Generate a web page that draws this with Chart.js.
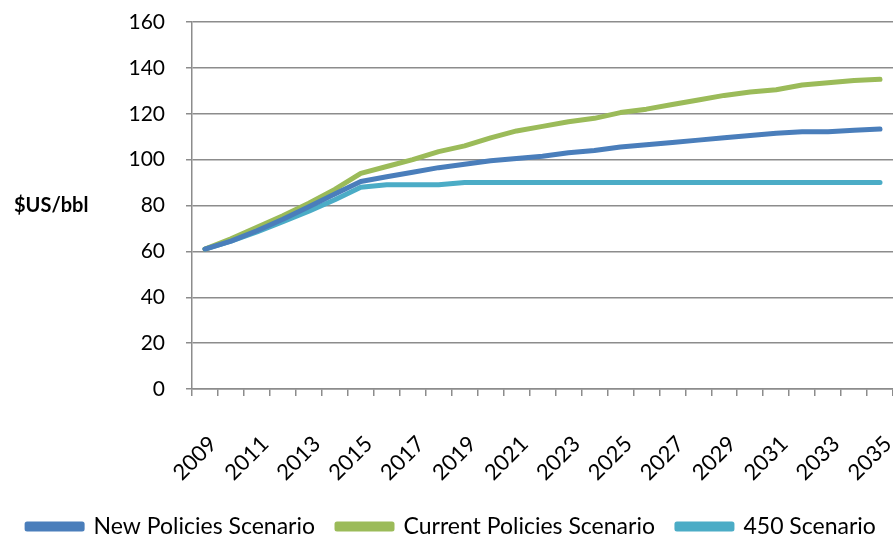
<!DOCTYPE html>
<html>
<head>
<meta charset="utf-8">
<script src="https://cdn.jsdelivr.net/npm/chart.js@4"></script>
<style>
    html, body { margin: 0; padding: 0; background: #fff; }
    #wrap { width: 893px; height: 540px; position: relative; }
</style>
</head>
<body>
<div id="wrap"><canvas id="chart" width="893" height="540"></canvas></div>
<script>
const years = [];
for (let y = 2009; y <= 2035; y++) years.push(String(y));

const newPolicies = [61, 64.5, 69, 74, 79.5, 85, 90.5, 92.5, 94.5, 96.5, 98, 99.5, 100.5, 101.5, 103, 104, 105.5, 106.5, 107.5, 108.5, 109.5, 110.5, 111.5, 112.2, 112.2, 112.8, 113.3];
const currentPolicies = [61, 65.5, 70.5, 75.5, 81, 87, 94, 97, 100, 103.5, 106, 109.5, 112.5, 114.5, 116.5, 118, 120.5, 122, 124, 126, 128, 129.5, 130.5, 132.5, 133.5, 134.5, 135];
const scenario450 = [61, 64.5, 68.5, 73, 77.5, 82.5, 88, 89, 89, 89, 90, 90, 90, 90, 90, 90, 90, 90, 90, 90, 90, 90, 90, 90, 90, 90, 90];

const seriesNames = ["New Policies Scenario", "Current Policies Scenario", "450 Scenario"];
const seriesColors = ["#4a7ebb", "#9bbb59", "#4bacc6"];
const yTitle = "$US/bbl";

const FONT = "Lato, 'Open Sans', sans-serif";
const GRID = "#8c8c8c";

// horizontal axis title left of the y ticks
const yTitlePlugin = {
    id: "yTitle",
    afterDraw(chart) {
        const ctx = chart.ctx;
        const area = chart.chartArea;
        ctx.save();
        ctx.font = "bold 20px " + FONT;
        ctx.fillStyle = "#000";
        ctx.textAlign = "left";
        ctx.textBaseline = "middle";
        ctx.fillText(yTitle, 14, (area.top + area.bottom) / 2);
        ctx.restore();
    },
};

function makeSet(i, data) {
    return {
        label: seriesNames[i],
        data: data,
        borderColor: seriesColors[i],
        backgroundColor: seriesColors[i],
        borderWidth: 5,
        borderCapStyle: "round",
        borderJoinStyle: "round",
        pointRadius: 0,
        tension: 0,
        fill: false,
    };
}

const ctx = document.getElementById("chart").getContext("2d");
const chart = new Chart(ctx, {
    type: "line",
    data: {
        labels: years,
        datasets: [
            makeSet(0, newPolicies),
            makeSet(1, currentPolicies),
            makeSet(2, scenario450),
        ],
    },
    options: {
        responsive: false,
        animation: false,
        layout: { padding: { left: 0, right: -10, top: 22, bottom: -8 } },
        plugins: {
            tooltip: { enabled: false },
            legend: {
                position: "bottom",
                labels: {
                    boxWidth: 55,
                    boxHeight: 5,
                    padding: 22,
                    color: "#000",
                    font: { family: FONT, size: 23 },
                },
            },
        },
        scales: {
            x: {
                offset: true,
                grid: {
                    offset: true,
                    drawOnChartArea: false,
                    drawTicks: true,
                    tickLength: 7,
                    tickColor: GRID,
                    tickWidth: 1.5,
                    color: GRID,
                    lineWidth: 1.5,
                },
                border: { color: GRID, width: 1.5 },
                ticks: {
                    autoSkip: false,
                    minRotation: 45,
                    maxRotation: 45,
                    color: "#000",
                    font: { family: FONT, size: 22 },
                    padding: 35,
                    labelOffset: 8,
                    callback: function (val, idx) {
                        return idx % 2 === 0 ? years[idx] : "";
                    },
                },
                afterFit(scale) {
                    scale.height = 104;
                    scale.paddingLeft = 0;
                    scale.paddingRight = 0;
                },
            },
            y: {
                min: 0,
                max: 160,
                grid: {
                    color: GRID,
                    lineWidth: 1.5,
                    tickLength: 6,
                },
                border: { color: GRID, width: 1.5 },
                ticks: {
                    stepSize: 20,
                    color: "#000",
                    padding: 21,
                    font: { family: FONT, size: 21 },
                },
                afterFit(scale) {
                    scale.width = 192;
                    scale.paddingTop = 0;
                    scale.paddingBottom = 0;
                },
            },
        },
    },
    plugins: [yTitlePlugin],
});
</script>
</body>
</html>
